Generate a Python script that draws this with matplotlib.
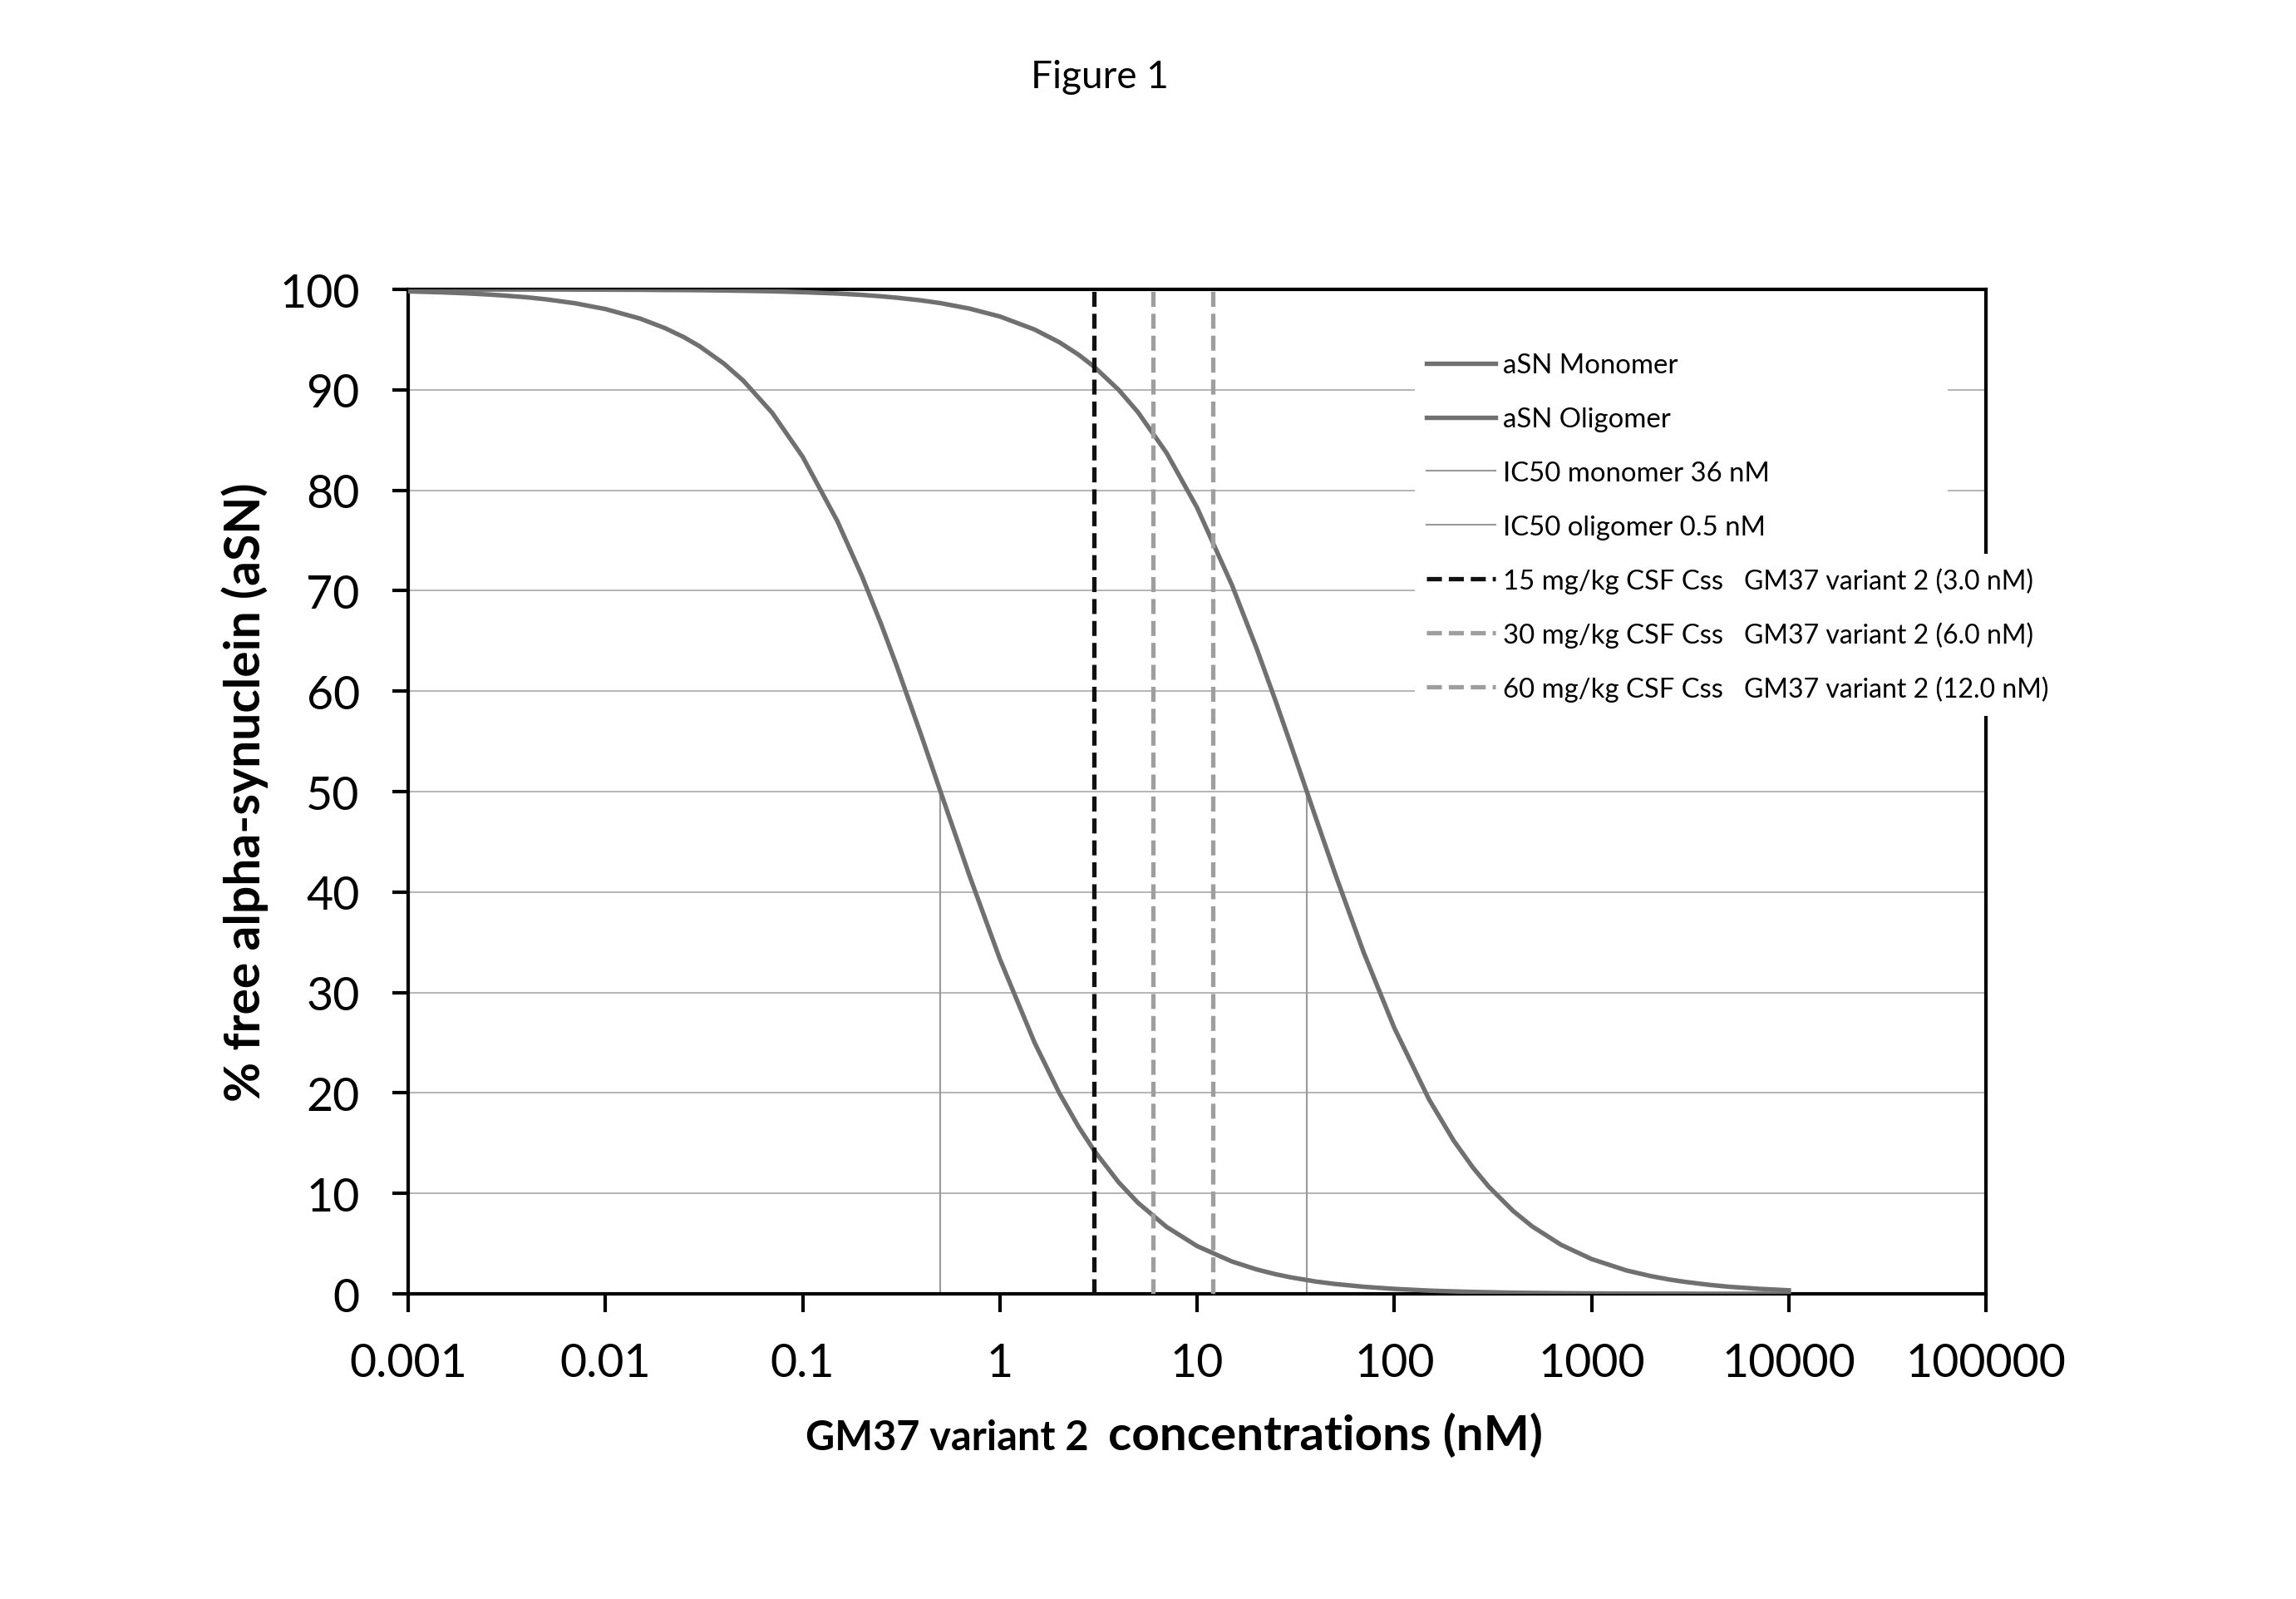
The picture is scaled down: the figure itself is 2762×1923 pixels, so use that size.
import matplotlib.pyplot as plt

# concentrations (nM)
conc_nM = [0.001, 0.0015, 0.002, 0.0025, 0.003, 0.004, 0.005, 0.007,
           0.01, 0.015, 0.02, 0.025, 0.03, 0.04, 0.05, 0.07,
           0.1, 0.15, 0.2, 0.25, 0.3, 0.4, 0.5, 0.7,
           1, 1.5, 2, 2.5, 3, 4, 5, 7,
           10, 15, 20, 25, 30, 40, 50, 70,
           100, 150, 200, 250, 300, 400, 500, 700,
           1000, 1500, 2000, 2500, 3000, 4000, 5000, 7000,
           10000]

monomer_pct = [100.00, 100.00, 99.99, 99.99, 99.99, 99.99, 99.99, 99.98,
               99.97, 99.96, 99.94, 99.93, 99.92, 99.89, 99.86, 99.81,
               99.72, 99.59, 99.45, 99.31, 99.17, 98.90, 98.63, 98.09,
               97.30, 96.00, 94.74, 93.51, 92.31, 90.00, 87.80, 83.72,
               78.26, 70.59, 64.29, 59.02, 54.55, 47.37, 41.86, 33.96,
               26.47, 19.35, 15.25, 12.59, 10.71, 8.26, 6.72, 4.89,
               3.47, 2.34, 1.77, 1.42, 1.19, 0.89, 0.71, 0.51,
               0.36]

oligomer_pct = [99.80, 99.70, 99.60, 99.50, 99.40, 99.21, 99.01, 98.62,
                98.04, 97.09, 96.15, 95.24, 94.34, 92.59, 90.91, 87.72,
                83.33, 76.92, 71.43, 66.67, 62.50, 55.56, 50.00, 41.67,
                33.33, 25.00, 20.00, 16.67, 14.29, 11.11, 9.09, 6.67,
                4.76, 3.23, 2.44, 1.96, 1.64, 1.23, 0.99, 0.71,
                0.50, 0.33, 0.25, 0.20, 0.17, 0.12, 0.10, 0.07,
                0.05, 0.03, 0.02, 0.02, 0.02, 0.01, 0.01, 0.01,
                0.00]

ic50_monomer = 36.0
ic50_oligomer = 0.5
ic50_level = 50

dose_conc = [3.0, 6.0, 12.0]
dose_labels = ["15 mg/kg CSF Css", "30 mg/kg CSF Css", "60 mg/kg CSF Css"]
dose_notes = ["GM37 variant 2 (3.0 nM)", "GM37 variant 2 (6.0 nM)",
              "GM37 variant 2 (12.0 nM)"]
dose_colors = ["#111111", "#9e9e9e", "#9e9e9e"]

xtick_vals = [0.001, 0.01, 0.1, 1, 10, 100, 1000, 10000, 100000]
xtick_labels = ["0.001", "0.01", "0.1", "1", "10", "100", "1000", "10000", "100000"]
ytick_vals = list(range(0, 101, 10))

plt.rcParams['font.family'] = ['Lato', 'DejaVu Sans']
plt.rcParams['lines.scale_dashes'] = False

curve_col = "#707070"
ic50_col = "#9a9a9a"

fig = plt.figure(figsize=(27.62, 19.24), dpi=100)
ax = fig.add_axes([0.1778, 0.1907, 0.6872, 0.6279])

ax.plot(conc_nM, monomer_pct, color=curve_col, lw=3.9, label="aSN Monomer", zorder=3)
ax.plot(conc_nM, oligomer_pct, color=curve_col, lw=3.9, label="aSN Oligomer", zorder=3)
ax.plot([ic50_monomer, ic50_monomer], [0, ic50_level], color=ic50_col, lw=1.5,
        label="IC50 monomer 36 nM", zorder=2)
ax.plot([ic50_oligomer, ic50_oligomer], [0, ic50_level], color=ic50_col, lw=1.5,
        label="IC50 oligomer 0.5 nM", zorder=2)
for c, lab, col in zip(dose_conc, dose_labels, dose_colors):
    ax.axvline(c, color=col, lw=3.8, dashes=(13, 6), label=lab, zorder=4)

ax.set_xscale("log")
ax.set_xlim(0.001, 100000)
ax.set_ylim(0, 100)
ax.set_xticks(xtick_vals)
ax.set_xticklabels(xtick_labels)
ax.minorticks_off()
ax.set_yticks(ytick_vals)
ax.yaxis.grid(True, color="#a8a8a8", lw=1.2)
ax.set_axisbelow(True)

for sp in ax.spines.values():
    sp.set_linewidth(3)
    sp.set_color("black")
ax.tick_params(axis="x", direction="out", length=16, width=3, pad=26, labelsize=40)
ax.tick_params(axis="y", direction="out", length=14, width=3, pad=28, labelsize=40)

leg = ax.legend(loc="upper left", bbox_to_anchor=(0.6294, 0.556, 0.355, 0.406),
                mode="expand", fontsize=23.7, frameon=True, fancybox=False,
                edgecolor="none", facecolor="white", framealpha=1,
                handlelength=2.53, handletextpad=0.28, labelspacing=1.06,
                borderpad=0.42)
leg.set_zorder(6)

fig.canvas.draw()
renderer = fig.canvas.get_renderer()
for txt, note in zip(leg.get_texts()[4:], dose_notes):
    bb = txt.get_window_extent(renderer)
    yc = (bb.y0 + bb.y1) / 2 / fig.bbox.height
    fig.text(0.7596, yc, note, va="center", ha="left", fontsize=23,
             bbox=dict(boxstyle="square,pad=0.55", fc="white", ec="none"),
             zorder=10)

fig.text(0.3508, 0.0935, "GM37 variant 2", fontsize=35, fontweight="bold",
         ha="left", va="baseline")
fig.text(0.4826, 0.0935, "concentrations (nM)", fontsize=42, fontweight="bold",
         ha="left", va="baseline")
fig.text(0.1065, 0.5047, "% free alpha-synuclein (aSN)", fontsize=42.3,
         fontweight="bold", rotation=90, ha="center", va="center")
fig.text(0.479, 0.9517, "Figure 1", fontsize=33, ha="center", va="center")

fig.savefig("out.png", dpi=100, facecolor="white")
